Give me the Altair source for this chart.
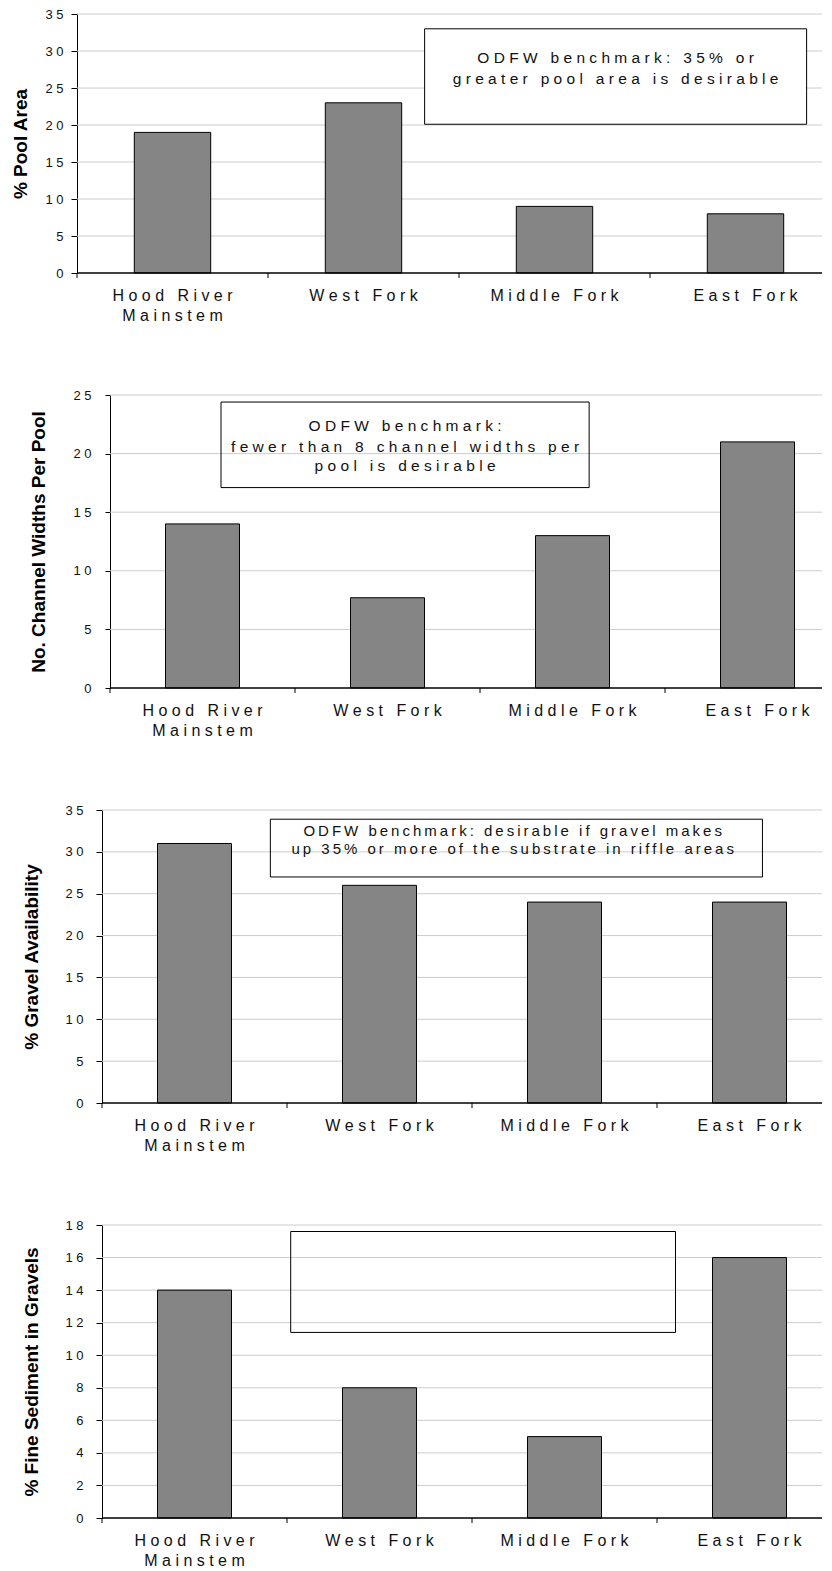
import altair as alt
import pandas as pd

# ---------------- data ----------------
categories = ["Hood River Mainstem", "West Fork", "Middle Fork", "East Fork"]
pool_area = [19, 23, 9, 8]
channel_widths = [14, 7.7, 13, 21]
gravel_availability = [31, 26, 24, 24]
fine_sediment = [14, 8, 5, 16]

panel_values = [pool_area, channel_widths, gravel_availability, fine_sediment]
y_titles = ["% Pool Area", "No. Channel Widths Per Pool",
            "% Gravel Availability", "% Fine Sediment in Gravels"]
y_max = [35, 25, 35, 18]
y_step = [5, 5, 5, 2]

# benchmark boxes, in (category slot, value) units
box_x1 = [1.82, 0.60, 0.91, 1.02]
box_x2 = [3.82, 2.59, 3.57, 3.10]
box_y1 = [20.1, 17.1, 27.0, 11.4]
box_y2 = [33.0, 24.4, 33.9, 17.6]
box_filled = [True, False, False, False]

note_lines = [
    ["ODFW benchmark: 35% or", "greater pool area is desirable"],
    ["ODFW benchmark:", "fewer than 8 channel widths per", "pool is desirable"],
    ["ODFW benchmark: desirable if gravel makes",
     "up 35% or more of the substrate in riffle areas"],
    [],
]
note_x = [2.82, 1.595, 2.22, 0]
note_y = [[29.05, 26.2], [22.35, 20.56, 18.94], [32.5, 30.35], []]

# ---------------- layout / style ----------------
X0 = 102                      # common plot origin (page px)
axis_x = [77, 110, 102, 102]  # where each panel's y axis sits
slot = [191, 185, 185, 185]
heights = [259, 293, 293, 293]
right_edge = 822
title_center = [20, 38.5, 31, 31]
ylabel_pad = [8, 14, 13, 13]
ytick_size = [6, 5, 6, 6]
note_size = [15.5, 15.5, 15, 15]
FONT = "Liberation Sans"
BAR = "#858585"
GRID = "#cccccc"
NB = "\u00a0"     # letter-spacing joiner (wide)
TH = "\u2009"     # letter-spacing joiner (thin)
note_joiner = [NB, NB, TH, NB]

SPACE_EXPR = f"join(split(datum.label, ''), '{NB}')"
CAT_EXPR = (f"replace(join(split(datum.cat, ''), '{NB}'), "
            f"'{NB} {NB}M', '|M')")


def panel(i):
    W = right_edge - X0
    H = heights[i]
    S = slot[i]
    d = axis_x[i] - X0
    n = len(categories)
    df = pd.DataFrame({"cat": categories, "val": panel_values[i]})
    xband = alt.Scale(domain=categories, range=[d, d + n * S], paddingInner=0, paddingOuter=0)
    xq = alt.Scale(domain=[0, n], range=[d, d + n * S], nice=False, zero=False)
    yscale = alt.Scale(domain=[0, y_max[i]], nice=False, zero=True)
    yvals = list(range(0, y_max[i] + 1, y_step[i]))

    grid = alt.Chart(pd.DataFrame({"g": yvals[1:]})).mark_rule(color=GRID, strokeWidth=1).encode(
        y=alt.Y("g:Q", scale=yscale, axis=None), x=alt.value(d), x2=alt.value(W),
    )

    bars = alt.Chart(df).mark_bar(
        width=alt.RelativeBandSize(0.4), color=BAR, stroke="#000", strokeWidth=1
    ).encode(
        x=alt.X("cat:N", scale=xband, sort=categories, axis=None),
        y=alt.Y("val:Q", scale=yscale, title=y_titles[i],
                axis=alt.Axis(values=yvals, grid=False, offset=-d,
                              domainColor="#000", domainWidth=1, tickColor="#000",
                              tickSize=ytick_size[i], labelExpr=SPACE_EXPR,
                              labelFontSize=13, labelColor="#111", labelFont=FONT,
                              labelPadding=ylabel_pad[i],
                              titleFont=FONT, titleFontSize=19, titleFontWeight="bold",
                              titleColor="#000", titleAngle=270, titleBaseline="middle",
                              titleAlign="center", titleX=title_center[i] - axis_x[i],
                              titleY=H / 2)),
    )

    cat_labels = alt.Chart(df).transform_calculate(lab=CAT_EXPR).mark_text(
        fontSize=16, color="#111", font=FONT, align="center", baseline="top",
        lineBreak="|", lineHeight=20,
    ).encode(
        x=alt.X("cat:N", scale=xband, sort=categories, axis=None),
        y=alt.value(H + 15),
        text="lab:N",
    )

    ticks = alt.Chart(df).mark_rule(color="#000", strokeWidth=1).encode(
        x=alt.X("cat:N", scale=xband, sort=categories, bandPosition=0, axis=None),
        y=alt.value(H), y2=alt.value(H + 5),
    )

    base = alt.Chart(pd.DataFrame({"v": [0]})).mark_rule(color="#000", strokeWidth=1.3).encode(
        y=alt.Y("v:Q", scale=yscale, axis=None), x=alt.value(d), x2=alt.value(W),
    )

    box_df = pd.DataFrame({"x1": [box_x1[i]], "x2": [box_x2[i]],
                           "y1": [box_y1[i]], "y2": [box_y2[i]]})
    box = alt.Chart(box_df).mark_rect(
        fill="white" if box_filled[i] else "transparent", stroke="#000", strokeWidth=1
    ).encode(
        x=alt.X("x1:Q", scale=xq, axis=None), x2="x2:Q",
        y=alt.Y("y1:Q", scale=yscale, axis=None), y2="y2:Q",
    )

    spacer = alt.Chart(pd.DataFrame({"s": ["."]})).mark_text(opacity=0, fontSize=2).encode(
        text="s:N", x=alt.value(8 - X0 + 1), y=alt.value(H / 2),
    )

    layers = [grid, bars, ticks, base, cat_labels, box, spacer]
    if note_lines[i]:
        note_df = pd.DataFrame({"t": note_lines[i], "x": [note_x[i]] * len(note_lines[i]),
                                "y": note_y[i]})
        notes = alt.Chart(note_df).transform_calculate(
            s=f"join(split(datum.t, ''), '{note_joiner[i]}')"
        ).mark_text(fontSize=note_size[i], color="#111", font=FONT, align="center",
                    baseline="middle").encode(
            x=alt.X("x:Q", scale=xq, axis=None),
            y=alt.Y("y:Q", scale=yscale, axis=None),
            text="s:N",
        )
        layers.append(notes)

    return (alt.layer(*layers)
            .resolve_scale(x="independent")
            .resolve_axis(x="independent", y="independent")
            .properties(width=W, height=H))


chart = (alt.vconcat(*[panel(i) for i in range(4)], spacing=65)
         .properties(padding={"left": 0, "top": 0, "right": 0, "bottom": 0})
         .configure(font=FONT)
         .configure_view(strokeWidth=0, stroke="transparent"))

chart.save("out.html", embed_options={"renderer": "svg", "actions": False})
